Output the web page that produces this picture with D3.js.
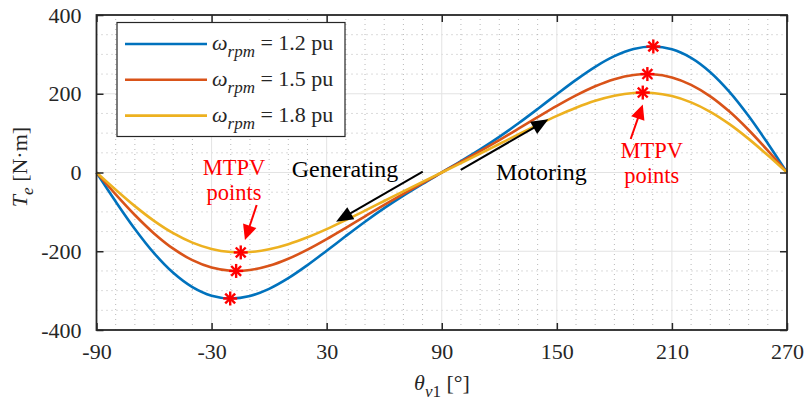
<!DOCTYPE html>
<html>
<head>
<meta charset="utf-8">
<script src="https://cdn.jsdelivr.net/npm/d3@7/dist/d3.min.js"></script>
<style>
  html, body { margin: 0; padding: 0; background: #fff; }
  svg { display: block; }
</style>
</head>
<body>
<svg id="chart" width="807" height="402"></svg>
<script>
// Load angle (deg) and electromagnetic torque (N·m) at three speeds
const thetaDeg = [-90, -80, -70, -60, -50, -40, -30, -20, -10, 0, 10, 20, 30, 40, 50, 60, 70, 80,
  90, 100, 110, 120, 130, 140, 150, 160, 170, 180, 190, 200, 210, 220, 230, 240, 250, 260, 270];

const torque12 = [0, -73.8, -143.4, -204.8, -254.8, -291.2, -312.9, -319.9, -313.5, -295.4, -268.4,
  -235.2, -198.8, -161.4, -125.0, -90.6, -58.7, -28.8, 0, 28.8, 58.7, 90.6, 125.0, 161.4, 198.8,
  235.2, 268.4, 295.4, 313.5, 319.9, 312.9, 291.2, 254.8, 204.8, 143.4, 73.8, 0];

const torque15 = [0, -55.5, -107.9, -154.7, -193.5, -222.7, -241.5, -249.6, -247.7, -237.0, -219.1,
  -195.8, -169.1, -140.4, -111.2, -82.3, -54.2, -26.9, 0, 26.9, 54.2, 82.3, 111.2, 140.4, 169.1,
  195.8, 219.1, 237.0, 247.7, 249.6, 241.5, 222.7, 193.5, 154.7, 107.9, 55.5, 0];

const torque18 = [0, -43.8, -85.4, -122.8, -154.1, -178.1, -194.2, -202.0, -202.1, -195.1, -182.2,
  -164.6, -143.8, -120.8, -96.8, -72.4, -48.0, -23.9, 0, 23.9, 48.0, 72.4, 96.8, 120.8, 143.8,
  164.6, 182.2, 195.1, 202.1, 202.0, 194.2, 178.1, 154.1, 122.8, 85.4, 43.8, 0];

const speedLabels = ["1.2", "1.5", "1.8"];

// Maximum torque per volt points (generating, motoring) for each speed
const mtpvTheta = [[-20.3, 200.3], [-17.2, 197.2], [-14.8, 194.8]];
const mtpvTorque = [[-320, 320], [-250, 250], [-203, 203]];

const xTicks = [-90, -30, 30, 90, 150, 210, 270];
const yTicks = [-400, -200, 0, 200, 400];

const colors = ["#0072BD", "#D95319", "#EDB120"];
const series = [torque12, torque15, torque18];
const SERIF = "Liberation Serif, Times New Roman, Times, serif";

const svg = d3.select("#chart");
const x = d3.scaleLinear().domain([-90, 270]).range([96.5, 787]);
const y = d3.scaleLinear().domain([-400, 400]).range([330, 15]);
const [x0, x1] = x.range();
const [y0, y1] = [y(-400), y(400)];

// Grid: dotted minor lines, light solid major lines
const grid = svg.append("g");
const minorX = d3.range(-90, 271, 10).filter(v => !xTicks.includes(v));
const minorY = d3.range(-400, 401, 50).filter(v => !yTicks.includes(v));
grid.selectAll(".mx").data(minorX).join("line")
  .attr("x1", d => x(d)).attr("x2", d => x(d)).attr("y1", y0).attr("y2", y1)
  .attr("stroke", "#b8b8b8").attr("stroke-width", 1).attr("stroke-dasharray", "1,4");
grid.selectAll(".my").data(minorY).join("line")
  .attr("y1", d => y(d)).attr("y2", d => y(d)).attr("x1", x0).attr("x2", x1)
  .attr("stroke", "#b8b8b8").attr("stroke-width", 1).attr("stroke-dasharray", "1,4");
grid.selectAll(".gx").data(xTicks.slice(1, -1)).join("line")
  .attr("x1", d => x(d)).attr("x2", d => x(d)).attr("y1", y0).attr("y2", y1)
  .attr("stroke", "#e3e3e3").attr("stroke-width", 1);
grid.selectAll(".gy").data(yTicks.slice(1, -1)).join("line")
  .attr("y1", d => y(d)).attr("y2", d => y(d)).attr("x1", x0).attr("x2", x1)
  .attr("stroke", "#e3e3e3").attr("stroke-width", 1);

// Torque curves
const line = d3.line()
  .x((d, i) => x(thetaDeg[i]))
  .y(d => y(d))
  .curve(d3.curveCatmullRom.alpha(0.5));
svg.append("g").selectAll("path").data(series).join("path")
  .attr("d", d => line(d))
  .attr("fill", "none")
  .attr("stroke", (d, i) => colors[i])
  .attr("stroke-width", 2.6);

// Axes with inward ticks on all four sides
function styleAxis(g) {
  g.attr("font-family", SERIF).attr("font-size", 22);
  g.select(".domain").remove();
  g.selectAll(".tick line").attr("stroke", "#262626").attr("stroke-width", 1.5);
  g.selectAll(".tick text").attr("fill", "#262626");
}
const plain = d => String(d);
svg.append("g").attr("transform", `translate(0,${y0})`)
  .call(d3.axisBottom(x).tickValues(xTicks).tickFormat(plain).tickSizeInner(-7).tickSizeOuter(0).tickPadding(13))
  .call(styleAxis);
svg.append("g").attr("transform", `translate(0,${y1})`)
  .call(d3.axisTop(x).tickValues(xTicks).tickSizeInner(-7).tickSizeOuter(0).tickFormat(""))
  .call(styleAxis);
svg.append("g").attr("transform", `translate(${x0},0)`)
  .call(d3.axisLeft(y).tickValues(yTicks).tickFormat(plain).tickSizeInner(-7).tickSizeOuter(0).tickPadding(15))
  .call(styleAxis);
svg.append("g").attr("transform", `translate(${x1},0)`)
  .call(d3.axisRight(y).tickValues(yTicks).tickSizeInner(-7).tickSizeOuter(0).tickFormat(""))
  .call(styleAxis);
svg.append("rect")
  .attr("x", x0).attr("y", y1).attr("width", x1 - x0).attr("height", y0 - y1)
  .attr("fill", "none").attr("stroke", "#262626").attr("stroke-width", 1.8);

// MTPV asterisks
const stars = svg.append("g");
mtpvTheta.forEach((ths, s) => {
  ths.forEach((th, k) => {
    const cx = x(th), cy = y(mtpvTorque[s][k]), r = 7;
    const g = stars.append("g").attr("stroke", "#ff0000").attr("stroke-width", 2.4);
    [0, 45, 90, 135].forEach(a => {
      const dx = r * Math.cos(a * Math.PI / 180), dy = r * Math.sin(a * Math.PI / 180);
      g.append("line").attr("x1", cx - dx).attr("y1", cy - dy).attr("x2", cx + dx).attr("y2", cy + dy);
    });
  });
});

// Annotation arrows (data coordinates: tail -> head)
function arrow(from, to, color, headLen, headHalf) {
  const ax = x(from[0]), ay = y(from[1]), bx = x(to[0]), by = y(to[1]);
  const ang = Math.atan2(by - ay, bx - ax);
  const ux = Math.cos(ang), uy = Math.sin(ang);
  const baseX = bx - ux * headLen, baseY = by - uy * headLen;
  svg.append("line").attr("x1", ax).attr("y1", ay).attr("x2", baseX + ux * 2).attr("y2", baseY + uy * 2)
    .attr("stroke", color).attr("stroke-width", 2);
  svg.append("path")
    .attr("d", `M${bx},${by}L${baseX - uy * headHalf},${baseY + ux * headHalf}L${baseX + uy * headHalf},${baseY - ux * headHalf}Z`)
    .attr("fill", color);
}
arrow([80.1, 2], [34.9, -125], "#000", 17, 7);
arrow([99.9, 6.4], [145.6, 135], "#000", 17, 7);
arrow([-6.5, -82.6], [-12.6, -171.5], "#ff0000", 15, 7);
arrow([188.5, 85], [194.8, 173], "#ff0000", 15, 7);

// Annotation text (each line of a label is a tspan)
function label(lines, th, tq, color, anchor, size) {
  const t = svg.append("text").attr("x", x(th)).attr("y", y(tq))
    .attr("text-anchor", anchor)
    .attr("font-family", SERIF).attr("font-size", size)
    .attr("fill", color);
  lines.forEach((s, i) => {
    t.append("tspan").attr("x", x(th)).attr("dy", i === 0 ? 0 : 24.5).text(s);
  });
}
label(["Generating"], 11.8, -10.7, "#000", "start", 24);
label(["Motoring"], 118.3, -19, "#000", "start", 24);
label(["MTPV", "points"], -18.3, -6.4, "#ff0000", "middle", 22.5);
label(["MTPV", "points"], 199.5, 36.8, "#ff0000", "middle", 22.5);

// Legend
const leg = svg.append("g");
leg.append("rect").attr("x", 117).attr("y", 22.5).attr("width", 228).attr("height", 114)
  .attr("fill", "#fff").attr("stroke", "#262626").attr("stroke-width", 1.2);
speedLabels.forEach((lab, i) => {
  const ly = 44 + i * 35.8;
  leg.append("line").attr("x1", 125).attr("x2", 207).attr("y1", ly).attr("y2", ly)
    .attr("stroke", colors[i]).attr("stroke-width", 2.6);
  const t = leg.append("text").attr("x", 212).attr("y", ly + 6)
    .attr("font-family", SERIF).attr("font-size", 22).attr("fill", "#262626");
  t.append("tspan").attr("font-style", "italic").text("ω");
  t.append("tspan").attr("font-style", "italic").attr("font-size", 17).attr("dy", 7).text("rpm");
  t.append("tspan").attr("dy", -7).text(" = " + lab + " pu");
});

// Axis titles
const yl = svg.append("text")
  .attr("transform", `translate(27,167) rotate(-90)`)
  .attr("text-anchor", "middle")
  .attr("font-family", SERIF).attr("font-size", 22).attr("fill", "#262626");
yl.append("tspan").attr("font-style", "italic").text("T");
yl.append("tspan").attr("font-style", "italic").attr("font-size", 17).attr("dy", 6).text("e");
yl.append("tspan").attr("dy", -6).text(" [N·m]");

const xl = svg.append("text")
  .attr("x", 442).attr("y", 390)
  .attr("text-anchor", "middle")
  .attr("font-family", SERIF).attr("font-size", 22).attr("fill", "#262626");
xl.append("tspan").attr("font-style", "italic").text("θ");
xl.append("tspan").attr("font-style", "italic").attr("font-size", 17).attr("dy", 7).text("v");
xl.append("tspan").attr("font-size", 17).text("1");
xl.append("tspan").attr("dy", -7).text(" [°]");
</script>
</body>
</html>
